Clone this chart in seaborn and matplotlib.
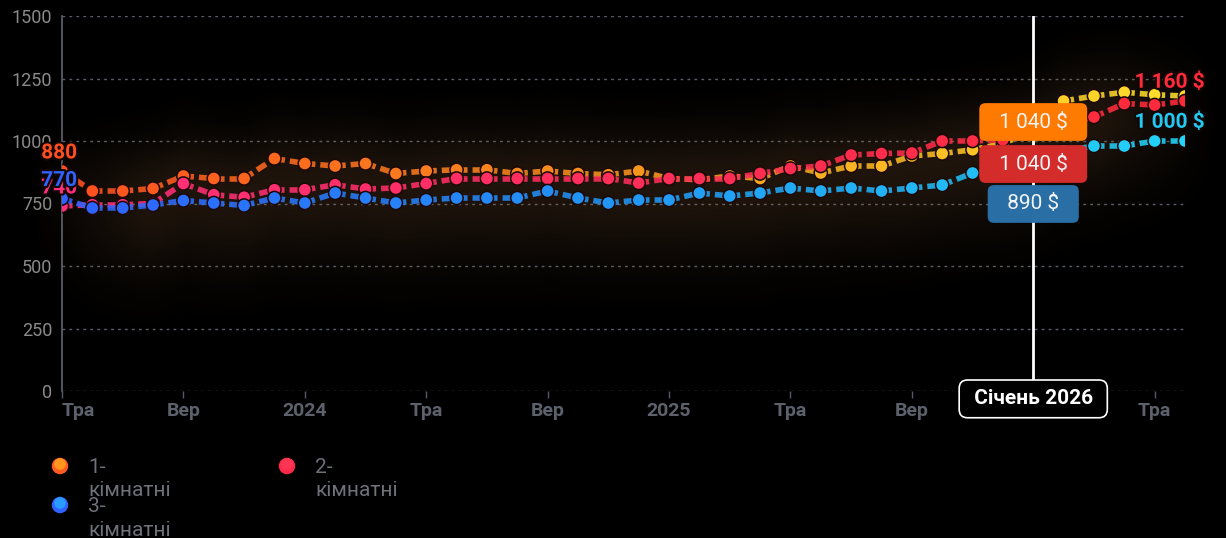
import numpy as np
import pandas as pd
import matplotlib.pyplot as plt
import seaborn as sns
import matplotlib.patheffects as pe
from matplotlib.collections import LineCollection
from matplotlib.colors import LinearSegmentedColormap
from matplotlib.transforms import blended_transform_factory

# Дані: середня ціна оренди, $ (травень 2023 - червень 2026)
months = pd.date_range('2023-05-01', periods=38, freq='MS')
one_room = [880, 800, 800, 810, 860, 850, 850, 930, 910, 900,
            910, 870, 880, 885, 885, 870, 880, 870, 865, 880,
            850, 845, 860, 850, 900, 872, 900, 900, 940, 950,
            965, 990, 1040, 1160, 1180, 1195, 1185, 1180]
two_room = [740, 745, 745, 750, 830, 785, 775, 805, 805, 825,
            808, 812, 830, 850, 850, 850, 850, 850, 850, 832,
            850, 850, 850, 870, 890, 900, 944, 950, 952, 1000,
            1000, 1005, 1040, 1070, 1096, 1150, 1144, 1160]
three_room = [770, 732, 732, 744, 762, 752, 742, 772, 752, 792,
              772, 752, 764, 772, 772, 772, 800, 772, 752, 764,
              764, 792, 780, 792, 812, 800, 812, 800, 812, 824,
              872, 880, 890, 960, 980, 980, 1000, 1000]
series_names = ['1-кімнатні', '2-кімнатні', '3-кімнатні']

tick_months = ['2023-05', '2023-09', '2024-01', '2024-05', '2024-09',
               '2025-01', '2025-05', '2025-09', '2026-01', '2026-05']
tick_labels = ['Тра', 'Вер', '2024', 'Тра', 'Вер', '2025', 'Тра', 'Вер', '2026', 'Тра']
y_ticks = [0, 250, 500, 750, 1000, 1250, 1500]
cursor_month = '2026-01'
cursor_label = 'Січень 2026'

# Стиль
gradients = [['#ff4f1f', '#f7941d', '#fde02b'],
             ['#ff2f7d', '#ff2e5a', '#ff2b3a'],
             ['#2f62ff', '#2196f3', '#22d4f7']]
tooltip_colors = ['#ff7a00', '#d42b2b', '#2a6ea6']
start_label_colors = ['#ff4f1f', '#ff2f7d', '#2f62ff']
end_label_colors = ['#fde02b', '#ff2b3a', '#22c8f0']
legend_colors = [('#ffb21f', '#ff5a1f'), ('#ff3a5a', '#ff2a4a'), ('#2ab4ff', '#2f62ff')]

sns.set_theme(style='dark', rc={'figure.facecolor': 'black', 'axes.facecolor': 'black'})
plt.rcParams['font.family'] = ['Roboto', 'DejaVu Sans']


def fmt(v):
    return f'{v:,}'.replace(',', ' ')


fig = plt.figure(figsize=(12.26, 5.38), dpi=100)
ax = fig.add_axes([62 / 1226, 1 - 391 / 538, 1123 / 1226, 375 / 538])
x = np.arange(len(months))
all_series = [one_room, two_room, three_room]
cmaps = [LinearSegmentedColormap.from_list(f'g{i}', g) for i, g in enumerate(gradients)]

# м'яке тепле сяйво навколо ліній (розмите зображення)
band = np.mean(all_series, axis=0)
gx = np.linspace(-1.2, len(x) - 1 + 1.2, 600)
gy = np.linspace(0, 1560, 400)
GX, GY = np.meshgrid(gx, gy)
dy = (GY - np.interp(GX, x, band)) * 0.25          # у пікселях
sig = np.where(dy > 0, 55, 75)
glow = np.exp(-(dy / sig) ** 2)
edge = np.clip((GX + 1.2) / 4, 0, 1) * np.clip((len(x) - 1 + 1.2 - GX) / 4, 0, 1)
glow *= edge
rgba = np.zeros(GX.shape + (4,))
rgba[..., 0], rgba[..., 1], rgba[..., 2] = 0.64, 0.42, 0.25
rgba[..., 3] = 0.19 * glow
ax.imshow(rgba, extent=(gx[0], gx[-1], gy[0], gy[-1]), origin='lower', aspect='auto',
          interpolation='bilinear', zorder=1, clip_on=False)

# лінії з градієнтом + точки
for k, (vals, cmap) in enumerate(zip(all_series, cmaps)):
    z = 3 + k
    pts = np.column_stack([x, vals])
    segs = np.stack([pts[:-1], pts[1:]], axis=1)
    cols = cmap((x[:-1] + 0.5) / (len(x) - 1))
    lc = LineCollection(segs, colors=cols, linewidths=4.0, linestyles=(0, (1.9, 0.9)),
                        alpha=0.88, zorder=z)
    ax.add_collection(lc)
    sns.scatterplot(x=x, y=vals, hue=x, palette=cmap, hue_norm=(0, len(x) - 1),
                    s=90, edgecolor='#1c0808', linewidth=1.1, legend=False,
                    ax=ax, zorder=z + 0.5)

ax.set_xlim(0, len(x) - 1)
ax.set_ylim(0, 1500)

# осі
tick_pos = months.get_indexer(pd.to_datetime(tick_months))
ax.set_xticks(tick_pos)
ax.set_xticklabels(tick_labels, fontsize=14, fontweight='bold', color='#5d616c')
ax.get_xticklabels()[0].set_ha('left')
ax.tick_params(axis='x', length=5, width=1, color='#555a66', pad=3, bottom=True)
ax.set_yticks(y_ticks)
ax.set_yticklabels([str(v) for v in y_ticks], fontsize=13, color='#8a8a8a')
ax.tick_params(axis='y', length=0, pad=7)
ax.set_xlabel('')
ax.set_ylabel('')
ax.yaxis.grid(True, color='#5a5e68', linestyle=(0, (2, 3)), lw=1)
ax.xaxis.grid(False)
ax.set_axisbelow(True)
for s in ['top', 'right', 'bottom']:
    ax.spines[s].set_visible(False)
ax.spines['left'].set_color('#60646e')
ax.spines['left'].set_linewidth(1.2)

# підписи першого й останнього значення
stroke = [pe.withStroke(linewidth=3, foreground='#120606')]
for k in [1, 0, 2]:
    vals = all_series[k]
    ax.annotate(fmt(vals[0]), (0, vals[0]), xytext=(-2, 13), textcoords='offset points',
                ha='center', va='center', fontsize=15, fontweight='bold',
                color=start_label_colors[k], path_effects=stroke, zorder=9,
                annotation_clip=False)
for k in [1, 2]:
    vals = all_series[k]
    ax.annotate(f'{fmt(vals[-1])} $', (len(x) - 1, vals[-1]), xytext=(-11, 13.5),
                textcoords='offset points', ha='center', va='center', fontsize=15,
                fontweight='bold', color=end_label_colors[k], path_effects=stroke,
                zorder=9, annotation_clip=False)

# курсор і підказка
ci = months.get_loc(pd.Timestamp(cursor_month))
ax.axvline(ci, color='white', lw=2, zorder=7)
trans = blended_transform_factory(ax.transData, ax.transAxes)
for k, yf in zip(range(3), [0.7173, 0.6053, 0.4987]):
    ax.text(ci, yf, f'  {fmt(all_series[k][ci])} $  ', transform=trans, ha='center',
            va='center', fontsize=15, color='#f4f4f4', zorder=8 + (2 - k) * 0.1,
            bbox=dict(boxstyle='round,pad=0.45,rounding_size=0.3',
                      fc=tooltip_colors[k], ec='none'))
ax.text(ci, -0.021, f' {cursor_label} ', transform=trans, ha='center', va='center',
        fontsize=15, fontweight='bold', color='white', zorder=10, clip_on=False,
        bbox=dict(boxstyle='round,pad=0.45,rounding_size=0.4', fc='black',
                  ec='white', lw=1.2))

# легенда
lax = fig.add_axes([0, 0, 1, 1])
lax.set_xlim(0, 1226)
lax.set_ylim(538, 0)
lax.axis('off')
lax.patch.set_alpha(0)
legend_pos = [(60, 466), (287, 466), (60, 505)]
for name, (c_top, c_bot), (lx, ly) in zip(series_names, legend_colors, legend_pos):
    lax.scatter([lx], [ly], s=140, color=c_bot, edgecolor='none')
    lax.scatter([lx], [ly - 2], s=70, color=c_top, edgecolor='none', alpha=0.7)
    lax.text(lx + 28, ly - 8, name.replace('-', '-\n'), ha='left', va='top',
             fontsize=15, color='#6e707a', linespacing=1.3)

fig.savefig('out.png', dpi=100, facecolor='black')
